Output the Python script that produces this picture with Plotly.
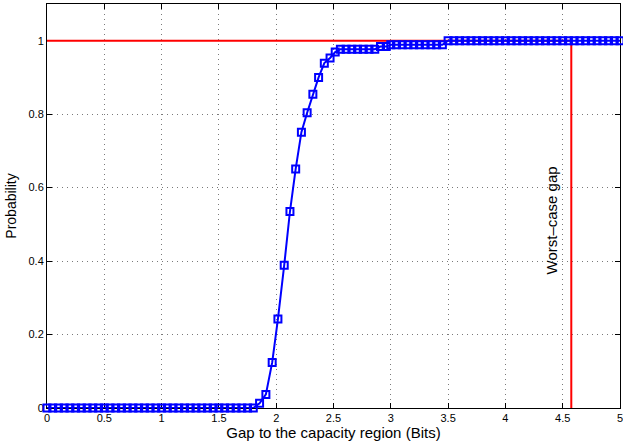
import plotly.graph_objects as go

# CDF of the gap to the capacity region
gap_bits = [0.0, 0.05, 0.1, 0.15, 0.2, 0.25, 0.3, 0.35, 0.4, 0.45, 0.5, 0.55, 0.6, 0.65,
            0.7, 0.75, 0.8, 0.85, 0.9, 0.95, 1.0, 1.05, 1.1, 1.15, 1.2, 1.25, 1.3, 1.35,
            1.4, 1.45, 1.5, 1.55, 1.6, 1.65, 1.7, 1.75, 1.8,
            1.855, 1.91, 1.965, 2.015, 2.07, 2.12, 2.17, 2.22, 2.27, 2.32, 2.37, 2.42,
            2.47, 2.515, 2.56, 2.61, 2.66, 2.71, 2.76, 2.81, 2.86, 2.91, 2.96,
            3.0, 3.05, 3.1, 3.15, 3.2, 3.25, 3.3, 3.35, 3.4, 3.45,
            3.5, 3.55, 3.6, 3.65, 3.7, 3.75, 3.8, 3.85, 3.9, 3.95, 4.0, 4.05, 4.1, 4.15,
            4.2, 4.25, 4.3, 4.35, 4.4, 4.45, 4.5, 4.55, 4.6, 4.65, 4.7, 4.75, 4.8, 4.85,
            4.9, 4.95, 5.0]
probability = [0, 0, 0, 0, 0, 0, 0, 0, 0, 0, 0, 0, 0, 0, 0, 0, 0, 0, 0, 0,
               0, 0, 0, 0, 0, 0, 0, 0, 0, 0, 0, 0, 0, 0, 0, 0, 0,
               0.013, 0.037, 0.124, 0.242, 0.389, 0.535, 0.651, 0.751, 0.804, 0.854, 0.9,
               0.939, 0.953, 0.969, 0.977, 0.977, 0.977, 0.977, 0.977, 0.977, 0.977,
               0.984, 0.984,
               0.989, 0.989, 0.989, 0.989, 0.989, 0.989, 0.989, 0.989, 0.989, 0.989,
               1, 1, 1, 1, 1, 1, 1, 1, 1, 1, 1, 1, 1, 1, 1, 1, 1, 1, 1, 1, 1, 1, 1, 1,
               1, 1, 1, 1, 1, 1, 1]

# worst-case gap marker line
worst_x = [0, 4.575, 4.575]
worst_y = [1, 1, 0]
worst_label = "Worst\u2013case gap"

x_ticks = [0, 0.5, 1, 1.5, 2, 2.5, 3, 3.5, 4, 4.5, 5]
x_ticklabels = ["0", "0.5", "1", "1.5", "2", "2.5", "3", "3.5", "4", "4.5", "5"]
y_ticks = [0, 0.2, 0.4, 0.6, 0.8, 1]
y_ticklabels = ["0", "0.2", "0.4", "0.6", "0.8", "1"]

FONT = "Liberation Sans, Arial, Helvetica, sans-serif"

fig = go.Figure()
fig.add_trace(go.Scatter(
    x=worst_x, y=worst_y, mode="lines",
    line=dict(color="#ff0000", width=2), cliponaxis=False, showlegend=False))
fig.add_trace(go.Scatter(
    x=gap_bits, y=probability, mode="lines+markers",
    line=dict(color="#0000ff", width=2),
    marker=dict(symbol="square-open", size=7, color="#0000ff",
                line=dict(color="#0000ff", width=2)),
    cliponaxis=False, showlegend=False))

fig.add_annotation(x=4.405, y=0.51, text=worst_label, textangle=-90,
                   showarrow=False, font=dict(family=FONT, size=15, color="black"))

axis_common = dict(
    showline=True, linecolor="black", linewidth=1, mirror="allticks",
    ticks="inside", ticklen=5, tickcolor="black", tickwidth=1,
    showgrid=True, gridcolor="#7a7a7a", griddash="1px,4px", gridwidth=1,
    zeroline=False, tickfont=dict(family=FONT, size=11, color="black"),
    layer="below traces", ticklabeloverflow="allow", automargin=False,
)

fig.update_xaxes(range=[0, 5], tickvals=x_ticks, ticktext=x_ticklabels,
                 title=dict(text="Gap to the capacity region (Bits)", standoff=2,
                            font=dict(family=FONT, size=15, color="black")),
                 **axis_common)
fig.update_yaxes(range=[0, 1.1], tickvals=y_ticks, ticktext=y_ticklabels,
                 title=dict(text="Probability", standoff=8,
                            font=dict(family=FONT, size=14, color="black")),
                 **axis_common)

fig.update_layout(
    width=623, height=445,
    margin=dict(l=47, r=3, t=4, b=37),
    plot_bgcolor="white", paper_bgcolor="white",
    font=dict(family=FONT),
)

fig.write_html("out.html")
